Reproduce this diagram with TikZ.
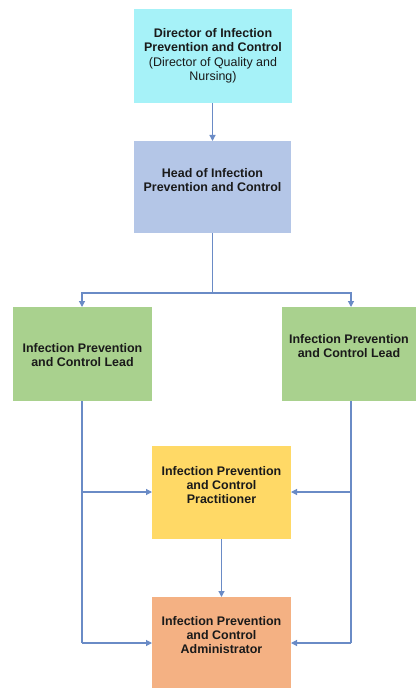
\documentclass[tikz,border=0pt]{standalone}
\usepackage{fontspec}
\setmainfont{Liberation Sans}
\usetikzlibrary{arrows.meta}
\definecolor{cdir}{RGB}{166,242,248}
\definecolor{chead}{RGB}{180,198,231}
\definecolor{clead}{RGB}{169,209,142}
\definecolor{cprac}{RGB}{255,217,102}
\definecolor{cadmin}{RGB}{244,177,131}
\definecolor{cline}{RGB}{106,139,198}
\definecolor{ctext}{RGB}{26,26,26}
\tikzset{
  box/.style={draw=none, inner sep=0pt, outer sep=0pt},
  txt/.style={align=center, text=ctext, font=\fontsize{12.5}{14.5}\selectfont\bfseries, inner sep=0pt},
  conn/.style={draw=cline, line width=1.2bp},
  arr/.style={conn, -{Triangle[length=6bp,width=6bp]}}
}
\begin{document}
\begin{tikzpicture}[x=1bp,y=-1bp]
\useasboundingbox (0,0) rectangle (416,688);
\fill[white] (0,0) rectangle (416,688);
% boxes
\node[box, fill=cdir, minimum width=158bp, minimum height=94bp] (dir) at (212.5,56) {};
\node[box, fill=chead, minimum width=157bp, minimum height=92bp] (head) at (212.5,187) {};
\node[box, fill=clead, minimum width=139bp, minimum height=94bp] (leadL) at (82.5,354) {};
\node[box, fill=clead, minimum width=134bp, minimum height=94bp] (leadR) at (349,354) {};
\node[box, fill=cprac, minimum width=139bp, minimum height=93bp] (prac) at (221.5,492.5) {};
\node[box, fill=cadmin, minimum width=139bp, minimum height=91bp] (admin) at (221.5,642.5) {};
% texts
\node[txt] (tdir) at (213,56) {Director of Infection\\Prevention and Control\\\mdseries(Director of Quality and\\\mdseries Nursing)};
\node[txt] (thead) at (212.5,180) {Head of Infection\\Prevention and Control};
\node[txt] (tleadL) at (82.5,355) {Infection Prevention\\and Control Lead};
\node[txt] (tleadR) at (349,346) {Infection Prevention\\and Control Lead};
\node[txt] (tprac) at (221.5,485) {Infection Prevention\\and Control\\Practitioner};
\node[txt] (tadmin) at (221.5,635) {Infection Prevention\\and Control\\Administrator};
% coordinates
\coordinate (hb) at (212.5,293);
\coordinate (lx) at (82,293);
\coordinate (rx) at (351,293);
\coordinate (lb) at (82,401);
\coordinate (rb) at (351,401);
\coordinate (lp) at (82,492);
\coordinate (rp) at (351,492);
\coordinate (la) at (82,643);
\coordinate (ra) at (351,643);
% connectors
\draw[arr] (dir.south) -- (head.north);
\draw[conn] (head.south) -- (hb);
\draw[arr] (hb) -- (lx) -- (lx |- leadL.north);
\draw[arr] (hb) -- (rx) -- (rx |- leadR.north);
\draw[conn] (lb) -- (la);
\draw[conn] (rb) -- (ra);
\draw[arr] (lp) -- (lp -| prac.west);
\draw[arr] (rp) -- (rp -| prac.east);
\draw[arr] (la) -- (la -| admin.west);
\draw[arr] (ra) -- (ra -| admin.east);
\draw[arr] (prac.south) -- (admin.north);
\end{tikzpicture}
\end{document}
